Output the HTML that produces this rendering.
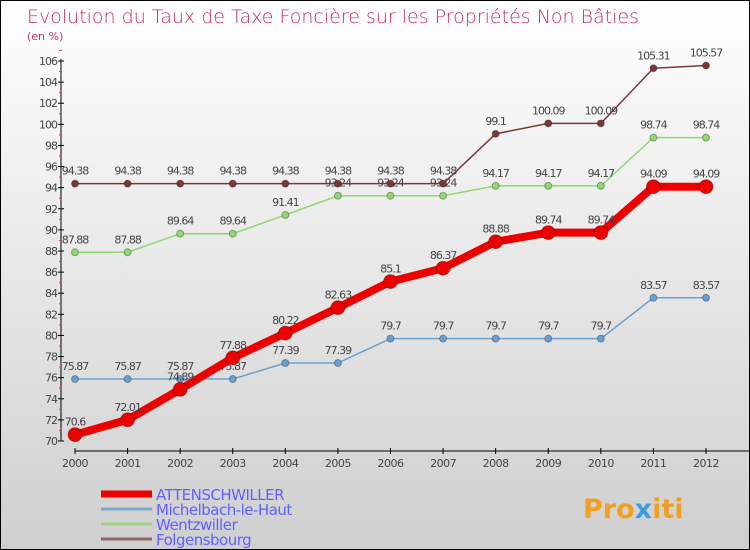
<!DOCTYPE html>
<html><head><meta charset="utf-8"><style>
body{margin:0}
#c{width:748px;height:548px;border:1px solid #000;background:linear-gradient(#ffffff,#cfcfcf);position:relative;font-family:"DejaVu Sans","Liberation Sans",sans-serif}
</style></head><body>
<div id="c">
<svg id="s" width="748" height="548" style="position:absolute;left:0;top:0">
<text x="26" y="22" font-size="19" fill="#c8306a" style="font-weight:200">Evolution du Taux de Taxe Foncière sur les Propriétés Non Bâties</text>
<text x="26" y="39" font-size="11" fill="#c8306a">(en %)</text>
<g id="axes"></g><g id="series"></g><g id="legend"></g>
<text x="582" y="517" font-size="27" font-weight="bold" fill="#f0a020">Pro<tspan fill="#3aa0e0">x</tspan>iti</text>
</svg></div>
<script>
const years=[2000,2001,2002,2003,2004,2005,2006,2007,2008,2009,2010,2011,2012];
const yTicks=[70,72,74,76,78,80,82,84,86,88,90,92,94,96,98,100,102,104,106];
const attenschwiller=[70.6,72.01,74.89,77.88,80.22,82.63,85.1,86.37,88.88,89.74,89.74,94.09,94.09];
const michelbach=[75.87,75.87,75.87,75.87,77.39,77.39,79.7,79.7,79.7,79.7,79.7,83.57,83.57];
const wentzwiller=[87.88,87.88,89.64,89.64,91.41,93.24,93.24,93.24,94.17,94.17,94.17,98.74,98.74];
const folgensbourg=[94.38,94.38,94.38,94.38,94.38,94.38,94.38,94.38,99.1,100.09,100.09,105.31,105.57];
const seriesNames=["ATTENSCHWILLER","Michelbach-le-Haut","Wentzwiller","Folgensbourg"];
const NS="http://www.w3.org/2000/svg";
function X(i){return 74+i*(705-74)/12}
function Y(v){return 440-(v-70)*(380/36)}
function mk(t,a,p){const e=document.createElementNS(NS,t);for(const k in a)e.setAttribute(k,a[k]);p.appendChild(e);return e}
const ax=document.getElementById('axes');
let l=mk('line',{x1:60,y1:58,x2:60,y2:440,stroke:'#000'},ax);

l=mk('line',{x1:74,y1:450,x2:748,y2:450,stroke:'#000'},ax);

yTicks.forEach(v=>{
 mk('line',{x1:57,x2:63,y1:Y(v),y2:Y(v),stroke:'#000'},ax);
 mk('line',{x1:58,x2:61,y1:Y(v+1),y2:Y(v+1),stroke:'#f33'},ax);
 const t=mk('text',{x:56,y:Y(v)+4,'font-size':11,'text-anchor':'end',fill:'#444','letter-spacing':'-1'},ax);t.textContent=v;
 
});
years.forEach((y,i)=>{
 mk('line',{x1:X(i),x2:X(i),y1:447,y2:453,stroke:'#000'},ax);
 const t=mk('text',{x:X(i),y:466,'font-size':11,'text-anchor':'middle',fill:'#444','letter-spacing':'-0.5'},ax);t.textContent=y;
 
});
const sg=document.getElementById('series');
function draw(data,color,w,r,name){
 const g=mk('g',{},sg);
 
 mk('polyline',{points:data.map((v,i)=>X(i)+','+Y(v)).join(' '),fill:'none',stroke:color,'stroke-width':w,'stroke-linejoin':'round'},g);
 data.forEach((v,i)=>{
  const c=mk('circle',{cx:X(i),cy:Y(v),r:r,fill:color,stroke:'rgba(0,0,0,0.3)'},g);
  
  const t=mk('text',{x:X(i),y:Y(v)-9,'font-size':11,'text-anchor':'middle',fill:'#444','letter-spacing':'-1'},g);t.textContent=v;
 });
}
draw(michelbach,'#6aa0d0',1.5,3.5,'series-michelbach');
draw(wentzwiller,'#90d870',1.5,3.5,'series-wentzwiller');
draw(folgensbourg,'#7a3838',1.5,3.5,'series-folgensbourg');
draw(attenschwiller,'#ee0000',8,7,'series-attenschwiller');
const lg=document.getElementById('legend');
const lc=['#ee0000','#7aa8cc','#9cd080','#906464'],lw=[7,3,3,3];
seriesNames.forEach((n,i)=>{
 const y=493+i*15;
 const g=mk('g',{},lg);
 mk('line',{x1:100,x2:151,y1:y,y2:y,stroke:lc[i],'stroke-width':lw[i]},g);
 const t=mk('text',{x:155,y:y+6,'font-size':15,fill:'#6060ff','letter-spacing':'-0.5'},g);t.textContent=n;
});
</script></body></html>
